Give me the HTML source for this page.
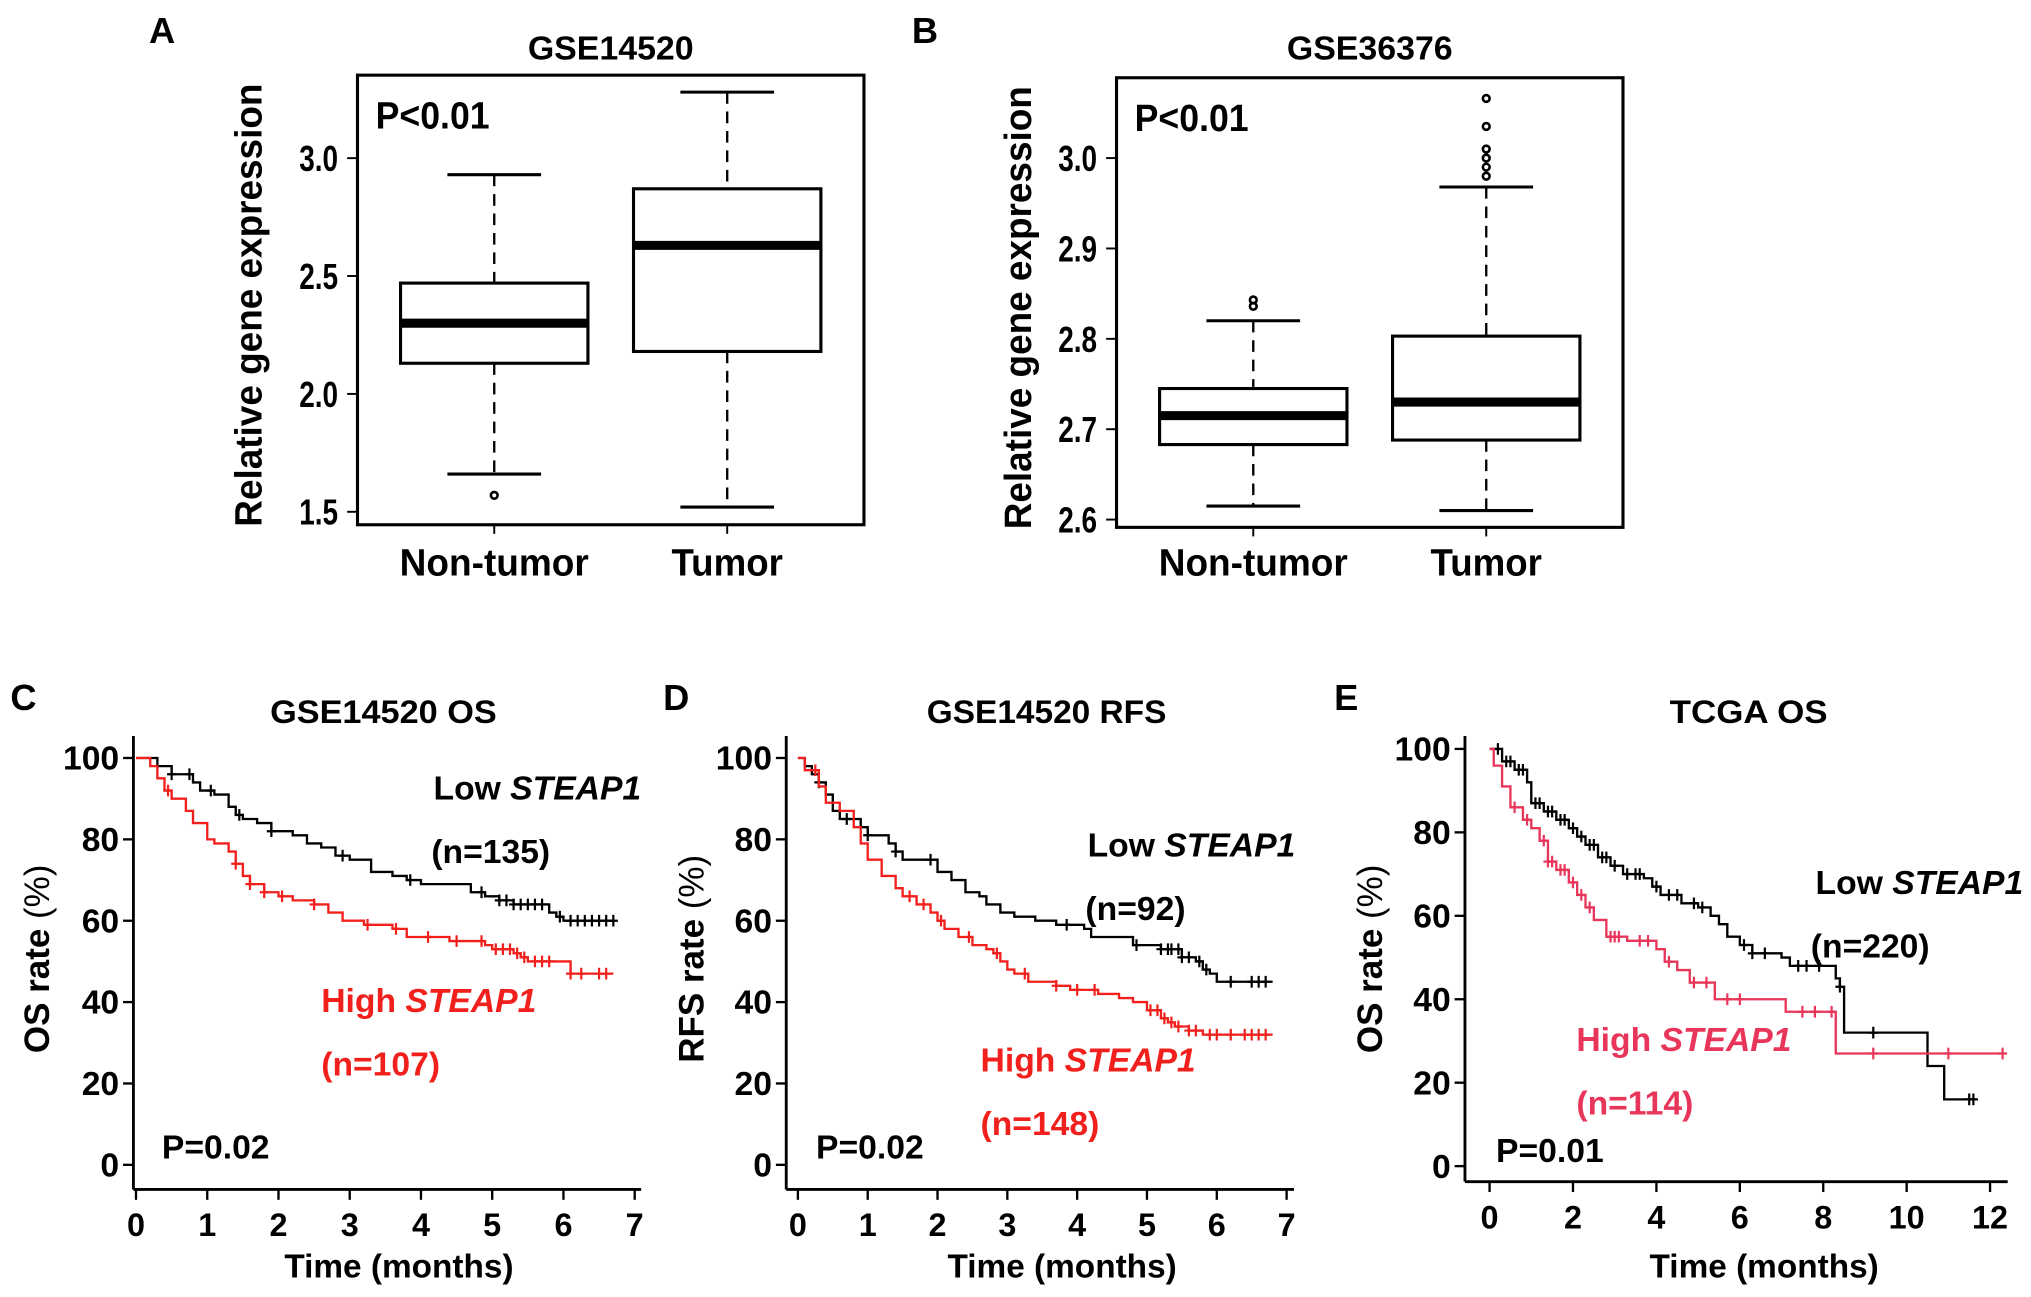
<!DOCTYPE html>
<html><head><meta charset="utf-8"><style>
html,body{margin:0;padding:0;background:#fff}
svg{display:block}
text{font-family:"Liberation Sans",Arial,sans-serif;font-weight:bold}
</style></head><body>
<svg id="fig" xmlns="http://www.w3.org/2000/svg" width="2031" height="1297" viewBox="0 0 1568 1001" preserveAspectRatio="none">
<g id="root"></g>
</svg>
<script>
// ---------- Box plot data ----------
const boxCats = ["Non-tumor","Tumor"];
const aWhiskHi = [2.93, 3.28];
const aQ3 = [2.47, 2.87];
const aMed = [2.30, 2.63];
const aQ1 = [2.13, 2.18];
const aWhiskLo = [1.66, 1.52];
const aOut = [[1.57], []];
const aTicks = [1.5, 2.0, 2.5, 3.0];
const aTickLabels = ["1.5","2.0","2.5","3.0"];

const bWhiskHi = [2.82, 2.968];
const bQ3 = [2.745, 2.803];
const bMed = [2.715, 2.730];
const bQ1 = [2.683, 2.688];
const bWhiskLo = [2.615, 2.610];
const bOut = [[2.836, 2.843], [3.066, 3.035, 3.010, 3.000, 2.990, 2.980]];
const bTicks = [2.6, 2.7, 2.8, 2.9, 3.0];
const bTickLabels = ["2.6","2.7","2.8","2.9","3.0"];

// ---------- KM data ----------
const cLowT = [0,0.3,0.5,0.8,0.9,1.1,1.3,1.4,1.5,1.7,1.9,2.2,2.4,2.6,2.8,3.0,3.3,3.6,3.8,4.0,4.7,4.9,5.1,5.3,5.8,5.9,6.0,6.7];
const cLowS = [100,98,96,94,92,91,88,86,85,84,82,81,79,78,76,75,72,71,70,69,67,66,65,64,62,61,60,60];
const cLowCens = [0.5,0.75,1.05,1.45,1.9,2.9,3.85,4.85,5.1,5.2,5.3,5.4,5.5,5.6,5.7,5.95,6.1,6.2,6.3,6.4,6.5,6.6,6.7];
const cHighT = [0,0.2,0.3,0.4,0.5,0.7,0.8,1.0,1.1,1.3,1.4,1.5,1.6,1.8,2.0,2.2,2.5,2.7,2.9,3.2,3.6,3.8,4.4,4.9,5.0,5.3,5.4,5.5,6.0,6.1,6.7];
const cHighS = [100,98,95,92,90,87,84,80,79,77,74,71,69,67,66,65,64,62,60,59,58,56,55,54,53,52,51,50,50,47,47];
const cHighCens = [0.45,1.4,1.6,1.8,2.05,2.5,3.25,3.65,4.1,4.5,4.85,5.05,5.15,5.25,5.35,5.45,5.6,5.7,5.8,6.1,6.25,6.5,6.6];

const dLowT = [0,0.1,0.2,0.3,0.4,0.5,0.6,0.9,1.0,1.3,1.4,1.5,2.0,2.2,2.4,2.6,2.7,2.9,3.1,3.4,3.7,4.1,4.2,4.8,5.2,5.5,5.7,5.8,5.9,6.0,6.8];
const dLowS = [100,98,96,94,91,87,85,83,81,79,77,75,72,70,67,66,64,62,61,60,59,58,56,54,53,51,50,48,47,45,45];
const dLowCens = [0.3,0.7,1.0,1.4,1.9,3.85,4.85,5.2,5.3,5.35,5.45,5.5,5.6,5.75,5.85,6.2,6.5,6.6,6.7];
const dHighT = [0,0.1,0.3,0.4,0.6,0.8,0.9,1.0,1.2,1.4,1.5,1.7,1.9,2.0,2.1,2.3,2.5,2.7,2.8,2.9,3.0,3.1,3.3,3.7,3.9,4.3,4.6,4.8,5.0,5.2,5.3,5.4,5.6,5.8,6.8];
const dHighS = [100,97,93,89,87,83,79,75,71,68,66,64,62,60,58,56,54,53,52,50,48,47,45,44,43,42,41,40,38,36,35,34,33,32,32];
const dHighCens = [0.25,1.6,1.8,2.05,2.45,2.85,3.25,3.7,4.0,4.25,5.05,5.15,5.25,5.35,5.45,5.6,5.7,5.9,6.0,6.2,6.4,6.5,6.6,6.7];

const eLowT = [0,0.3,0.6,0.9,1.0,1.3,1.6,1.9,2.1,2.3,2.6,2.9,3.2,3.7,3.9,4.1,4.6,5.0,5.3,5.5,5.7,6.0,6.3,7.0,7.2,8.2,8.3,8.4,8.5,10.4,10.5,10.9,11.6];
const eLowS = [100,97,95,92,87,85,83,81,79,77,74,72,70,69,67,65,63,62,60,58,55,53,51,50,48,48,45,43,32,32,24,16,16];
const eLowCens = [0.2,0.4,0.5,0.7,0.8,1.1,1.2,1.4,1.5,1.7,1.8,2.0,2.2,2.4,2.5,2.7,2.8,3.0,3.3,3.5,3.6,4.0,4.3,4.5,4.9,5.1,6.1,6.3,6.6,7.4,7.6,7.9,8.4,9.2,11.5,11.6];
const eHighT = [0,0.1,0.3,0.5,0.8,1.0,1.2,1.4,1.6,1.9,2.1,2.3,2.5,2.8,3.3,4.0,4.2,4.5,4.8,5.4,7.1,8.3,12.3];
const eHighS = [100,96,91,86,83,81,78,73,71,68,65,62,59,55,54,52,49,47,44,40,37,27,27];
const eHighCens = [0.6,0.9,1.3,1.4,1.5,1.7,1.8,2.0,2.2,2.4,2.9,3.0,3.1,3.6,3.8,4.3,4.9,5.2,5.7,6.0,7.5,7.8,8.2,9.2,11.0,12.3];

const SVGNS = "http://www.w3.org/2000/svg";
const root = document.getElementById('root');
function el(tag, attrs, parent, txt){
  const e = document.createElementNS(SVGNS, tag);
  for (const k in attrs) e.setAttribute(k, attrs[k]);
  if (txt !== undefined) e.textContent = txt;
  (parent||root).appendChild(e);
  return e;
}
function grp(name, parent){
  const g = el('g', {}, parent);
  
  
  return g;
}
function txt(parent, name, x, y, s, size, opts){
  opts = opts||{};
  const t = el('text', {x:x, y:y, 'font-size':size, 'text-anchor':opts.anchor||'start', fill:opts.fill||'#000'}, parent, s);
  if (opts.rot) t.setAttribute('transform', 'rotate(-90 '+x+' '+y+')');
  if (opts.len) { t.setAttribute('textLength', opts.len); t.setAttribute('lengthAdjust', 'spacingAndGlyphs'); }
  
  
  return t;
}

// ---------- Box plot ----------
function boxPlot(cfg){
  const g = grp(cfg.name);
  const ymin = cfg.ymin, ymax = cfg.ymax;
  const Y = v => cfg.y1 - (v - ymin) / (ymax - ymin) * (cfg.y1 - cfg.y0);
  txt(g, 'panel-letter', cfg.letterX, 33, cfg.letter, 28);
  txt(g, 'chart-title', (cfg.x0+cfg.x1)/2, 46, cfg.title, 26, {anchor:'middle', len:128});
  const frame = el('rect', {x:cfg.x0, y:cfg.y0, width:cfg.x1-cfg.x0, height:cfg.y1-cfg.y0, fill:'none', stroke:'#000', 'stroke-width':2.4}, g);
  
  
  const ya = grp('y-axis', g);
  cfg.ticks.forEach((v,i)=>{
    el('line', {x1:cfg.x0-8, x2:cfg.x0, y1:Y(v), y2:Y(v), stroke:'#000', 'stroke-width':1.5}, ya);
    txt(ya, 'y-tick-label', cfg.x0-15, Y(v)+10, cfg.tickLabels[i], 28, {anchor:'end', len:30});
  });
  txt(g, 'y-axis-title', cfg.ylabX, (cfg.y0+cfg.y1)/2+4, 'Relative gene expression', 29, {anchor:'middle', rot:true, len:342});
  txt(g, 'p-value', cfg.x0+14, cfg.y0+41, 'P<0.01', 29, {len:88});
  const cw = (cfg.x1 - cfg.x0);
  boxCats.forEach((c,i)=>{
    const cx = cfg.x0 + cw * (0.27 + 0.46*i);
    const hw = cw*0.185, cap = hw*0.5;
    const b = grp('box-'+c.toLowerCase(), g);
    el('line', {x1:cx, x2:cx, y1:Y(cfg.hi[i]), y2:Y(cfg.q3[i]), stroke:'#000', 'stroke-width':1.8, 'stroke-dasharray':'9 6'}, b);
    el('line', {x1:cx, x2:cx, y1:Y(cfg.q1[i]), y2:Y(cfg.lo[i]), stroke:'#000', 'stroke-width':1.8, 'stroke-dasharray':'9 6'}, b);
    el('line', {x1:cx-cap, x2:cx+cap, y1:Y(cfg.hi[i]), y2:Y(cfg.hi[i]), stroke:'#000', 'stroke-width':2.4}, b);
    el('line', {x1:cx-cap, x2:cx+cap, y1:Y(cfg.lo[i]), y2:Y(cfg.lo[i]), stroke:'#000', 'stroke-width':2.4}, b);
    el('rect', {x:cx-hw, y:Y(cfg.q3[i]), width:2*hw, height:Y(cfg.q1[i])-Y(cfg.q3[i]), fill:'#fff', stroke:'#000', 'stroke-width':2.4}, b);
    el('line', {x1:cx-hw, x2:cx+hw, y1:Y(cfg.med[i]), y2:Y(cfg.med[i]), stroke:'#000', 'stroke-width':7}, b);
    cfg.out[i].forEach(o=>{
      const c2 = el('circle', {cx:cx, cy:Y(o), r:2.6, fill:'none', stroke:'#000', 'stroke-width':2}, b);
      
      
    });
    el('line', {x1:cx, x2:cx, y1:cfg.y1, y2:cfg.y1+7, stroke:'#000', 'stroke-width':1.5}, b);
    txt(g, 'x-category-label', cx, 444, c, 29, {anchor:'middle', len: i===0?146:86});
  });
}
boxPlot({name:'panel-a-boxplot', letter:'A', letterX:115, title:'GSE14520', x0:276, x1:667, y0:58, y1:405, ymin:1.445, ymax:3.352,
  ticks:aTicks, tickLabels:aTickLabels, hi:aWhiskHi, q3:aQ3, med:aMed, q1:aQ1, lo:aWhiskLo, out:aOut, ylabX:202});
boxPlot({name:'panel-b-boxplot', letter:'B', letterX:704, title:'GSE36376', x0:862, x1:1253, y0:60, y1:407, ymin:2.5914, ymax:3.0889,
  ticks:bTicks, tickLabels:bTickLabels, hi:bWhiskHi, q3:bQ3, med:bMed, q1:bQ1, lo:bWhiskLo, out:bOut, ylabX:796});

// ---------- KM ----------
function km(cfg){
  const g = grp(cfg.name);
  const X = t => cfg.xz + t * cfg.xs;
  const Y = s => cfg.y0v - s * cfg.ys;
  txt(g, 'panel-letter', cfg.letterX, 548, cfg.letter, 28);
  txt(g, 'chart-title', cfg.titleX, 558, cfg.title, 25, {anchor:'middle', len:cfg.titleLen});
  const ax = grp('axes', g);
  el('line', {x1:cfg.ax, x2:cfg.ax, y1:568, y2:cfg.axY, stroke:'#000', 'stroke-width':2.2}, ax);
  el('line', {x1:cfg.ax, x2:cfg.axEnd, y1:cfg.axY, y2:cfg.axY, stroke:'#000', 'stroke-width':2.2}, ax);
  [0,20,40,60,80,100].forEach(v=>{
    el('line', {x1:cfg.ax-8, x2:cfg.ax, y1:Y(v), y2:Y(v), stroke:'#000', 'stroke-width':1.8}, ax);
    txt(ax, 'y-tick-label', cfg.ax-11, Y(v)+9, String(v), 26, {anchor:'end'});
  });
  cfg.xticks.forEach(v=>{
    el('line', {x1:X(v), x2:X(v), y1:cfg.axY, y2:cfg.axY+8, stroke:'#000', 'stroke-width':1.8}, ax);
    txt(ax, 'x-tick-label', X(v), cfg.axY+36, String(v), 25, {anchor:'middle'});
  });
  txt(g, 'x-axis-title', cfg.titleX+12, 986, 'Time (months)', 26, {anchor:'middle', len:177});
  const yt = el('text', {x:cfg.ylabX, y:740, 'font-size':27, 'text-anchor':'middle', transform:'rotate(-90 '+cfg.ylabX+' 740)'}, g);
   
  el('tspan', {}, yt, cfg.ylab + ' ');
  el('tspan', {'font-weight':'normal'}, yt, '(%)');
  function series(name, T, S, cens, color){
    const sg = grp(name, g);
    let d = 'M'+X(T[0])+','+Y(S[0]);
    for (let i=1;i<T.length;i++){ d += 'H'+X(T[i])+'V'+Y(S[i]); }
    el('path', {d:d, fill:'none', stroke:color, 'stroke-width':1.8}, sg);
    cens.forEach(c=>{
      let s = S[0];
      for (let i=0;i<T.length;i++){ if (T[i] <= c) s = S[i]; }
      const m = el('path', {d:'M'+(X(c)-3.5)+','+Y(s)+'h7M'+X(c)+','+(Y(s)-4.5)+'v9', stroke:color, 'stroke-width':1.7}, sg);
      
      
    });
  }
  series('low-steap1-curve', cfg.lowT, cfg.lowS, cfg.lowC, '#000');
  series('high-steap1-curve', cfg.highT, cfg.highS, cfg.highC, cfg.red);
  const l1 = el('text', {x:cfg.lowX, y:cfg.lowY, 'font-size':26, 'text-anchor':'end'}, g);
   
  el('tspan', {}, l1, 'Low '); el('tspan', {'font-style':'italic'}, l1, 'STEAP1');
  txt(g, 'low-n-label', cfg.lowNX, cfg.lowY+49, cfg.lowN, 26);
  const h1 = el('text', {x:cfg.highX, y:cfg.highY, 'font-size':26, fill:cfg.red}, g);
   
  el('tspan', {}, h1, 'High '); el('tspan', {'font-style':'italic'}, h1, 'STEAP1');
  txt(g, 'high-n-label', cfg.highX, cfg.highY+49, cfg.highN, 26, {fill:cfg.red});
  txt(g, 'p-value', cfg.pX, cfg.pY, cfg.p, 26);
}
km({name:'panel-c-km', letter:'C', letterX:8, title:'GSE14520 OS', titleLen:175, titleX:296, ax:103, axY:918, axEnd:495, xz:105, xs:55,
  y0v:899, ys:3.14, xticks:[0,1,2,3,4,5,6,7], ylab:'OS rate', ylabX:38, red:'#f2201c',
  lowT:cLowT, lowS:cLowS, lowC:cLowCens, highT:cHighT, highS:cHighS, highC:cHighCens,
  lowX:495, lowY:617, lowNX:333, lowN:'(n=135)', highX:248, highY:781, highN:'(n=107)', pX:125, pY:894, p:'P=0.02'});
km({name:'panel-d-km', letter:'D', letterX:512, title:'GSE14520 RFS', titleLen:185, titleX:808, ax:607, axY:918, axEnd:999, xz:616, xs:53.9,
  y0v:899, ys:3.14, xticks:[0,1,2,3,4,5,6,7], ylab:'RFS rate', ylabX:543, red:'#f2201c',
  lowT:dLowT, lowS:dLowS, lowC:dLowCens, highT:dHighT, highS:dHighS, highC:dHighCens,
  lowX:1000, lowY:661, lowNX:838, lowN:'(n=92)', highX:757, highY:827, highN:'(n=148)', pX:630, pY:894, p:'P=0.02'});
km({name:'panel-e-km', letter:'E', letterX:1030, title:'TCGA OS', titleLen:122, titleX:1350, ax:1131, axY:912, axEnd:1550, xz:1150, xs:32.2,
  y0v:900, ys:3.22, xticks:[0,2,4,6,8,10,12], ylab:'OS rate', ylabX:1067, red:'#e8365a',
  lowT:eLowT, lowS:eLowS, lowC:eLowCens, highT:eHighT, highS:eHighS, highC:eHighCens,
  lowX:1562, lowY:690, lowNX:1398, lowN:'(n=220)', highX:1217, highY:811, highN:'(n=114)', pX:1155, pY:897, p:'P=0.01'});
</script>
</body></html>
